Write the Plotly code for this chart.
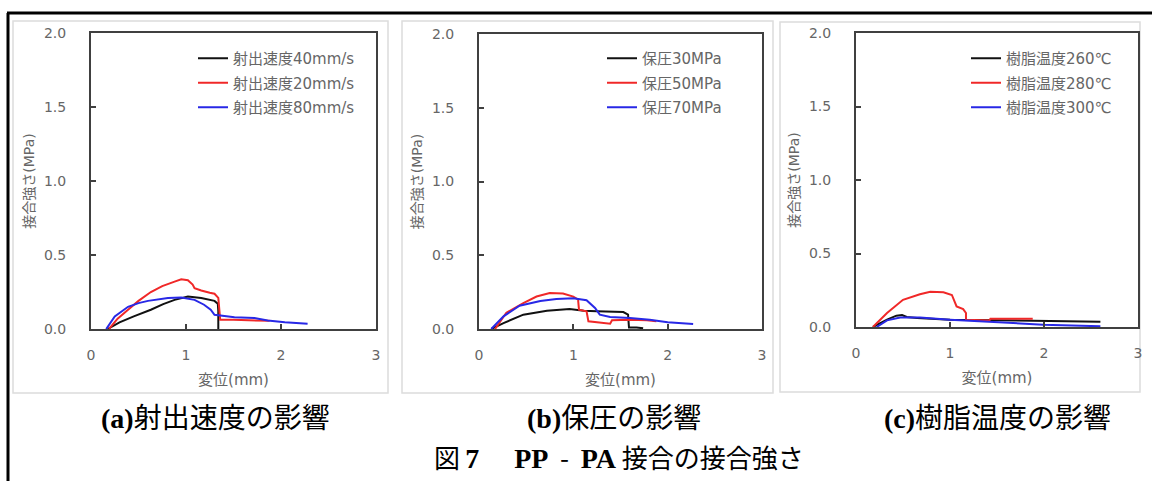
import plotly.graph_objects as go

# ---------------- data ----------------
x_ticks = [0, 1, 2, 3]
y_ticks = [0.0, 0.5, 1.0, 1.5, 2.0]

# (a) injection speed
a_names = ["射出速度40mm/s", "射出速度20mm/s", "射出速度80mm/s"]
a_x_40 = [0.175, 0.30, 0.45, 0.63, 0.76, 0.88, 1.02, 1.16, 1.30, 1.335, 1.34, 1.34]
a_y_40 = [0.0, 0.045, 0.085, 0.13, 0.168, 0.197, 0.22, 0.21, 0.19, 0.17, 0.12, 0.0]
a_x_20 = [0.19, 0.28, 0.39, 0.50, 0.63, 0.75, 0.88, 0.95, 1.02, 1.07, 1.09, 1.16, 1.25, 1.30, 1.34,
          1.35, 1.36, 1.50, 1.72, 1.88]
a_y_20 = [0.0, 0.07, 0.13, 0.19, 0.25, 0.29, 0.32, 0.336, 0.33, 0.30, 0.276, 0.26, 0.245, 0.238, 0.21,
          0.12, 0.063, 0.062, 0.058, 0.055]
a_x_80 = [0.16, 0.25, 0.39, 0.50, 0.60, 0.81, 0.95, 1.09, 1.19, 1.26, 1.30, 1.37, 1.51, 1.72, 1.86, 2.04, 2.28]
a_y_80 = [0.0, 0.085, 0.15, 0.175, 0.19, 0.21, 0.213, 0.197, 0.164, 0.13, 0.096, 0.09, 0.08, 0.074,
          0.058, 0.045, 0.036]

# (b) holding pressure
b_names = ["保圧30MPa", "保圧50MPa", "保圧70MPa"]
b_x_30 = [0.13, 0.26, 0.47, 0.60, 0.72, 0.96, 1.11, 1.25, 1.53, 1.58, 1.59, 1.67, 1.74]
b_y_30 = [0.0, 0.04, 0.097, 0.113, 0.124, 0.136, 0.124, 0.12, 0.115, 0.097, 0.01, 0.01, 0.005]
b_x_50 = [0.17, 0.29, 0.47, 0.61, 0.75, 0.89, 1.00, 1.05, 1.06, 1.14, 1.16, 1.39, 1.41, 1.60, 1.78, 1.88]
b_y_50 = [0.0, 0.11, 0.176, 0.22, 0.244, 0.24, 0.22, 0.20, 0.131, 0.12, 0.052, 0.036, 0.059, 0.063,
          0.059, 0.052]
b_x_70 = [0.13, 0.26, 0.43, 0.65, 0.82, 1.00, 1.14, 1.23, 1.28, 1.39, 1.60, 1.81, 2.00, 2.27]
b_y_70 = [0.0, 0.086, 0.158, 0.19, 0.204, 0.208, 0.195, 0.143, 0.097, 0.081, 0.075, 0.063, 0.045, 0.034]

# (c) resin temperature
c_names = ["樹脂温度260℃", "樹脂温度280℃", "樹脂温度300℃"]
c_x_260 = [0.18, 0.33, 0.43, 0.49, 0.54, 0.65, 1.00, 1.46, 1.99, 2.60]
c_y_260 = [0.0, 0.05, 0.077, 0.081, 0.068, 0.061, 0.05, 0.045, 0.038, 0.036]
c_x_280 = [0.18, 0.33, 0.50, 0.68, 0.79, 0.93, 1.02, 1.05, 1.07, 1.14, 1.17, 1.17, 1.42, 1.43, 1.88]
c_y_280 = [0.0, 0.095, 0.185, 0.223, 0.24, 0.236, 0.218, 0.173, 0.14, 0.122, 0.095, 0.05, 0.045, 0.056, 0.056]
c_x_300 = [0.22, 0.33, 0.47, 0.68, 1.00, 1.46, 1.99, 2.60]
c_y_300 = [0.0, 0.045, 0.065, 0.065, 0.05, 0.032, 0.016, 0.005]

captions = ["(a)", "射出速度の影響", "(b)", "保圧の影響", "(c)", "樹脂温度の影響"]
y_title = "接合強さ(MPa)"
x_title = "変位(mm)"

colors = ["#111111", "#f02828", "#2828e6"]

# ---------------- figure ----------------
W, H = 1152, 481
fig = go.Figure()

def px_x(p):
    return p / W

def px_y(p):
    return 1 - p / H

panels = [
    dict(xs=[a_x_40, a_x_20, a_x_80], ys=[a_y_40, a_y_20, a_y_80], names=a_names,
         dom_x=(91, 376), dom_y=(33, 329), leg_x=193, box=(13, 21, 388, 393)),
    dict(xs=[b_x_30, b_x_50, b_x_70], ys=[b_y_30, b_y_50, b_y_70], names=b_names,
         dom_x=(479, 762), dom_y=(34, 329), leg_x=602, box=(402, 21, 773, 393)),
    dict(xs=[c_x_260, c_x_280, c_x_300], ys=[c_y_260, c_y_280, c_y_300], names=c_names,
         dom_x=(856, 1138), dom_y=(33, 327), leg_x=966, box=(780, 22, 1140, 392)),
]

shapes = []
layout_axes = {}
for i, p in enumerate(panels):
    n = "" if i == 0 else str(i + 1)
    leg = "legend" if i == 0 else f"legend{i + 1}"
    for j in range(3):
        fig.add_trace(go.Scatter(
            x=p["xs"][j], y=p["ys"][j], mode="lines", name=p["names"][j],
            line=dict(color=colors[j], width=2),
            xaxis=f"x{n}", yaxis=f"y{n}", legend=leg, legendgroup=f"g{i}{j}",
        ))
    axis_common = dict(showline=True, mirror=True, linecolor="#404040", linewidth=2,
                       ticks="inside", ticklen=5, tickwidth=1.5, tickcolor="#404040",
                       showgrid=False, zeroline=False, automargin=False,
                       tickfont=dict(family="DejaVu Sans", size=14, color="#666666"))
    layout_axes[f"xaxis{n}"] = dict(
        domain=[px_x(p["dom_x"][0]), px_x(p["dom_x"][1])], range=[0, 3],
        tickvals=x_ticks, ticktext=[str(v) for v in x_ticks], anchor=f"y{n}",
        ticklabelstandoff=12,
        title=dict(text=x_title, standoff=13,
                   font=dict(family="DejaVu Sans, Noto Sans CJK JP", size=15, color="#666666")),
        **axis_common)
    layout_axes[f"yaxis{n}"] = dict(
        domain=[px_y(p["dom_y"][1]), px_y(p["dom_y"][0])], range=[0, 2],
        tickvals=y_ticks, ticktext=[f"{v:.1f}" for v in y_ticks], anchor=f"x{n}",
        ticklabelstandoff=20,
        title=dict(text=y_title, standoff=6,
                   font=dict(family="DejaVu Sans, Noto Sans CJK JP", size=14, color="#666666")),
        **axis_common)
    layout_axes[leg] = dict(
        x=px_x(p["leg_x"]), y=px_y(42), xanchor="left", yanchor="top",
        bgcolor="rgba(0,0,0,0)", traceorder="grouped", tracegroupgap=2,
        font=dict(family="DejaVu Sans, Noto Sans CJK JP", size=15, color="#666666"))
    bx0, by0, bx1, by1 = p["box"]
    shapes.append(dict(type="rect", xref="paper", yref="paper",
                       x0=px_x(bx0), x1=px_x(bx1), y0=px_y(by1), y1=px_y(by0),
                       line=dict(color="#dcdcdc", width=1.5), layer="below"))

# outer frame (top and left black border)
shapes.append(dict(type="line", xref="paper", yref="paper", x0=px_x(7), x1=1.0,
                   y0=px_y(13), y1=px_y(13), line=dict(color="black", width=3)))
shapes.append(dict(type="line", xref="paper", yref="paper", x0=px_x(8), x1=px_x(8),
                   y0=px_y(13), y1=0.0, line=dict(color="black", width=3)))

serif = "font-family:'Liberation Serif', serif"
cap_font = dict(family="Noto Sans CJK JP", size=28, color="black")
annotations = []
cap_centers = [215, 614, 997]
for k in range(3):
    txt = f"<span style=\"{serif}\"><b>{captions[2 * k]}</b></span>{captions[2 * k + 1]}"
    annotations.append(dict(text=txt, x=px_x(cap_centers[k]), y=px_y(416), xref="paper", yref="paper",
                            xanchor="center", yanchor="middle", showarrow=False, font=cap_font))
serif_big = serif + ";font-size:28px"
title_txt = (f"図\u2009<span style=\"{serif_big}\"><b>7</b></span>" + "\u00a0" * 6 +
             f"<span style=\"{serif_big}\"><b>PP</b></span>\u00a0\u00a0-\u00a0\u00a0"
             f"<span style=\"{serif_big}\"><b>PA</b></span>\u00a0接合の接合強さ")
annotations.append(dict(text=title_txt, x=px_x(619), y=px_y(456), xref="paper", yref="paper",
                        xanchor="center", yanchor="middle", showarrow=False,
                        font=dict(family="Noto Sans CJK JP", size=26, color="black")))

fig.update_layout(
    width=W, height=H, margin=dict(l=0, r=0, t=0, b=0, autoexpand=False),
    paper_bgcolor="white", plot_bgcolor="white",
    shapes=shapes, annotations=annotations, showlegend=True,
    **layout_axes,
)

fig.write_html("out.html")
